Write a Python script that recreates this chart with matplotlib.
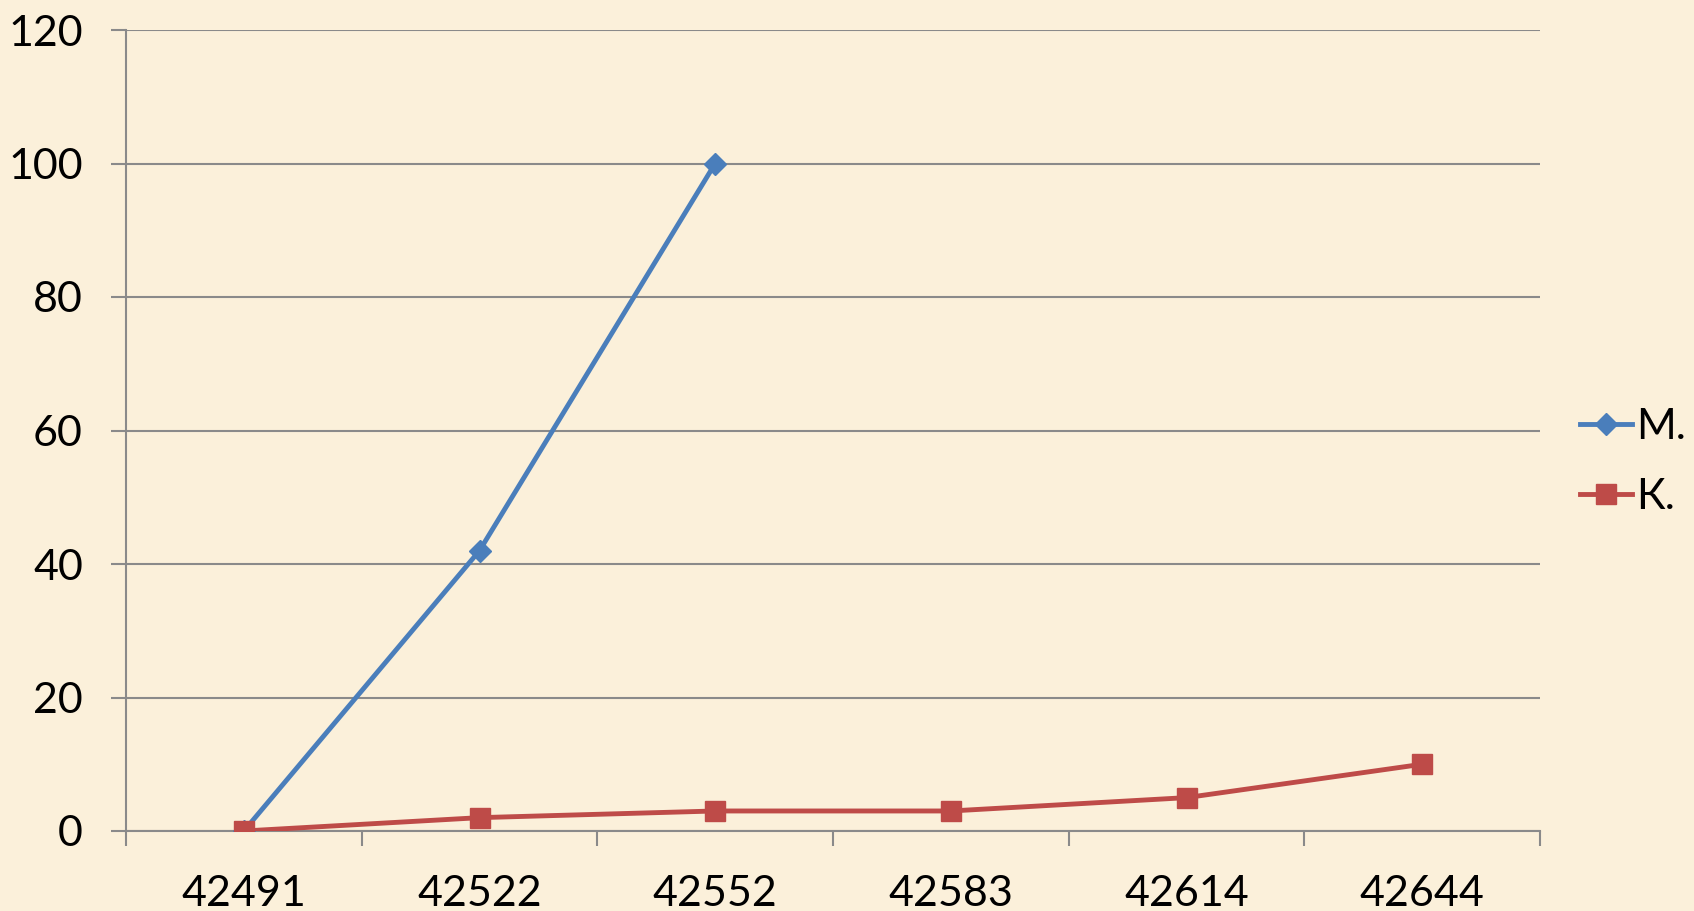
import matplotlib
matplotlib.use("Agg")
import matplotlib.pyplot as plt
import numpy as np

categories = ["42491", "42522", "42552", "42583", "42614", "42644"]
series_m = [0, 42, 100]
series_k = [0, 2, 3, 3, 5, 10]
y_ticks = [0, 20, 40, 60, 80, 100, 120]

plt.rcParams['font.family'] = ['Lato', 'DejaVu Sans']

W, H = 1694, 911
fig = plt.figure(figsize=(W / 100, H / 100), dpi=100)
bg = "#FBF0DA"
fig.patch.set_facecolor(bg)
ax = fig.add_axes([126 / W, 1 - 831 / H, (1540 - 126) / W, (831 - 30) / H])
ax.set_facecolor("none")

x = np.arange(len(categories))
ax.plot(x[:len(series_m)], series_m, color="#4A7EBB", lw=3.5, marker="D", ms=11,
        label="M.", zorder=3)
ax.plot(x, series_k, color="#BE4B48", lw=3.5, marker="s", ms=14,
        label="К.", zorder=3)

ax.set_xlim(-0.5, len(categories) - 0.5)
ax.set_ylim(0, 120)
ax.set_yticks(y_ticks)
ax.set_yticklabels([str(v) for v in y_ticks])
ax.grid(axis="y", color="#8A8A8A", lw=1.5)
ax.set_axisbelow(True)

ax.set_xticks(np.arange(-0.5, len(categories), 1.0))
ax.set_xticklabels([])
ax.set_xticks(x, minor=True)
ax.set_xticklabels(categories, minor=True)
ax.tick_params(axis="x", which="major", length=11, width=1.5, color="#8A8A8A", direction="out")
ax.tick_params(axis="x", which="minor", length=0, labelsize=31, pad=32)
ax.tick_params(axis="y", length=11, width=1.5, color="#8A8A8A", labelsize=31, pad=20)

for s in ["top", "right"]:
    ax.spines[s].set_visible(False)
for s in ["left", "bottom"]:
    ax.spines[s].set_color("#8A8A8A")
    ax.spines[s].set_linewidth(1.5)

leg = fig.legend(loc="center left", bbox_to_anchor=(1580 / W, 1 - 462 / H),
                 frameon=False, fontsize=31, handlelength=1.2, handletextpad=0.1,
                 labelspacing=0.75, borderpad=0, borderaxespad=0)

fig.savefig("out.png", dpi=100, facecolor=bg)
